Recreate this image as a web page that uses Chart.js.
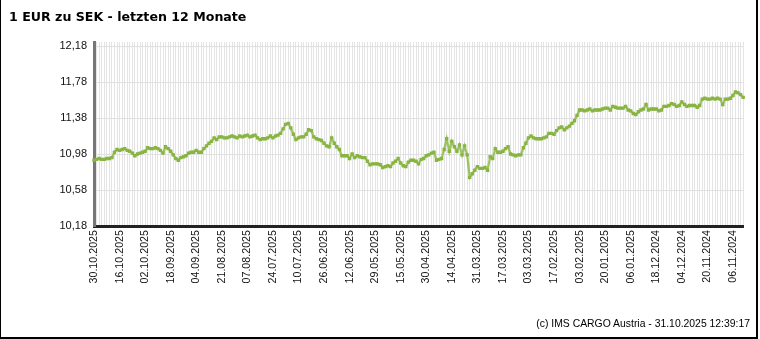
<!DOCTYPE html>
<html>
<head>
<meta charset="utf-8">
<script src="https://cdn.jsdelivr.net/npm/chart.js@4.4.1/dist/chart.umd.min.js"></script>
<style>
  html, body { margin: 0; padding: 0; background: #fff; }
  body { width: 760px; height: 339px; position: relative; overflow: hidden; }
  #wrap { position: absolute; left: 0; top: 0; width: 760px; height: 339px; }
  #title { position: absolute; left: 9px; top: 11px; font: bold 12.6px "DejaVu Sans", Verdana, sans-serif; line-height: 1; color: #000; white-space: nowrap; }
  #foot { position: absolute; right: 10px; top: 319px; font: 10.4px "Liberation Sans", Arial, sans-serif; line-height: 1; color: #000; white-space: nowrap; }
  #frame { position: absolute; left: 0; top: 0; width: 755px; height: 337px; border-left: 1px solid #000; border-right: 2px solid #000; border-bottom: 2px solid #000; pointer-events: none; }
</style>
</head>
<body>
<div id="wrap"><canvas id="c"></canvas></div>
<div id="title">1 EUR zu SEK - letzten 12 Monate</div>
<div id="foot">(c) IMS CARGO Austria - 31.10.2025 12:39:17</div>
<div id="frame"></div>
<script>
// Tick labels on the x axis (one every 10 trading days, newest on the left)
const tickLabels = [
  "30.10.2025","16.10.2025","02.10.2025","18.09.2025","04.09.2025","21.08.2025",
  "07.08.2025","24.07.2025","10.07.2025","26.06.2025","12.06.2025","29.05.2025",
  "15.05.2025","30.04.2025","14.04.2025","31.03.2025","17.03.2025","03.03.2025",
  "17.02.2025","03.02.2025","20.01.2025","06.01.2025","18.12.2024","04.12.2024",
  "20.11.2024","06.11.2024"
];
const labelEvery = 10;

// Y axis tick values
const yTicks = [10.18, 10.58, 10.98, 11.38, 11.78, 12.18];

// EUR/SEK rate, one value per trading day, newest first
const rates = [
  10.91, 10.92, 10.93, 10.92, 10.92, 10.93, 10.93, 10.94, 11.00, 11.03,
  11.02, 11.03, 11.04, 11.02, 11.01, 10.99, 10.96, 10.98, 10.99, 11.00,
  11.01, 11.05, 11.04, 11.04, 11.05, 11.04, 11.02, 10.99, 11.06, 11.04,
  11.01, 10.97, 10.93, 10.91, 10.94, 10.95, 10.96, 10.99, 11.00, 11.00,
  11.02, 11.00, 11.00, 11.04, 11.07, 11.10, 11.12, 11.16, 11.14, 11.17,
  11.17, 11.16, 11.16, 11.17, 11.18, 11.17, 11.16, 11.18, 11.17, 11.18,
  11.19, 11.17, 11.18, 11.19, 11.16, 11.14, 11.15, 11.15, 11.16, 11.18,
  11.16, 11.18, 11.19, 11.21, 11.26, 11.31, 11.32, 11.27, 11.20, 11.14,
  11.16, 11.17, 11.17, 11.20, 11.25, 11.24, 11.17, 11.15, 11.14, 11.13,
  11.10, 11.07, 11.06, 11.16, 11.10, 11.06, 11.03, 10.96, 10.96, 10.96,
  10.93, 10.98, 10.94, 10.96, 10.95, 10.94, 10.94, 10.90, 10.86, 10.87,
  10.87, 10.87, 10.86, 10.83, 10.84, 10.85, 10.84, 10.88, 10.90, 10.93,
  10.88, 10.85, 10.84, 10.89, 10.91, 10.91, 10.90, 10.87, 10.92, 10.93,
  10.96, 10.97, 10.99, 11.00, 10.91, 10.92, 10.93, 11.03, 11.15, 11.01,
  11.12, 11.06, 11.01, 11.08, 10.97, 11.07, 10.97, 10.72, 10.76, 10.80,
  10.84, 10.82, 10.82, 10.83, 10.80, 10.95, 10.93, 11.04, 11.00, 11.00,
  11.01, 11.04, 11.06, 10.98, 10.97, 10.96, 10.97, 10.97, 11.05, 11.10,
  11.16, 11.18, 11.16, 11.15, 11.15, 11.15, 11.16, 11.17, 11.21, 11.21,
  11.20, 11.24, 11.27, 11.28, 11.25, 11.27, 11.29, 11.32, 11.35, 11.41,
  11.47, 11.47, 11.46, 11.47, 11.48, 11.46, 11.47, 11.47, 11.47, 11.48,
  11.49, 11.49, 11.47, 11.51, 11.50, 11.49, 11.49, 11.49, 11.51, 11.47,
  11.46, 11.43, 11.42, 11.45, 11.47, 11.48, 11.53, 11.47, 11.48, 11.48,
  11.48, 11.46, 11.47, 11.51, 11.51, 11.52, 11.54, 11.53, 11.51, 11.52,
  11.56, 11.53, 11.51, 11.52, 11.52, 11.52, 11.50, 11.52, 11.59, 11.60,
  11.59, 11.59, 11.60, 11.59, 11.60, 11.59, 11.53, 11.59, 11.59, 11.60,
  11.63, 11.67, 11.66, 11.64, 11.61
];

const categories = rates.map((_, i) => (i % labelEvery === 0 && tickLabels[i / labelEvery]) ? tickLabels[i / labelEvery] : "");

new Chart(document.getElementById("c"), {
  type: "line",
  data: {
    labels: categories,
    datasets: [{
      data: rates,
      borderColor: "rgba(140,186,72,0.85)",
      borderWidth: 2.2,
      pointRadius: 2.4,
      pointBorderWidth: 0,
      pointBackgroundColor: "#88b442",
      pointStyle: "rect",
      tension: 0,
      fill: false
    }]
  },
  options: {
    responsive: true,
    maintainAspectRatio: false,
    animation: false,
    events: [],
    layout: { padding: { top: 42, right: 12, bottom: 53, left: 0 } },
    plugins: { legend: { display: false }, tooltip: { enabled: false }, title: { display: false } },
    scales: {
      x: {
        type: "category",
        offset: false,
        grid: { color: "#e4e4e4", lineWidth: 1, drawTicks: false },
        border: { color: "#222", width: 3 },
        ticks: {
          autoSkip: false,
          minRotation: 90,
          maxRotation: 90,
          padding: 4,
          color: "#111",
          font: { family: "'Liberation Sans', Arial, sans-serif", size: 10.7 }
        },
        afterFit: s => { s.height = 60; }
      },
      y: {
        min: 10.18,
        max: 12.225,
        afterBuildTicks: s => { s.ticks = yTicks.map(v => ({ value: v })); },
        grid: { color: "#e0e0e0", lineWidth: 1, drawTicks: false },
        border: { color: "#777", width: 3 },
        ticks: {
          padding: 7,
          color: "#111",
          font: { family: "'Liberation Sans', Arial, sans-serif", size: 11 },
          callback: v => Number(v).toFixed(2).replace(".", ",")
        },
        afterFit: s => { s.width = 94; }
      }
    }
  }
});
</script>
</body>
</html>
